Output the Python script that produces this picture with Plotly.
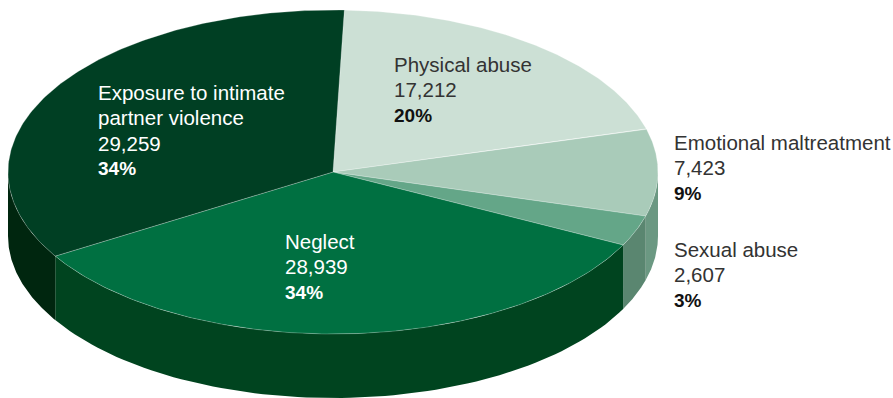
import numpy as np
import plotly.graph_objects as go

# Substantiated child maltreatment, by primary category (clockwise from the top)
categories = ["Physical abuse", "Emotional maltreatment", "Sexual abuse",
              "Neglect", "Exposure to intimate partner violence"]
label_lines = [["Physical abuse"], ["Emotional maltreatment"], ["Sexual abuse"],
               ["Neglect"], ["Exposure to intimate", "partner violence"]]
counts = [17212, 7423, 2607, 28939, 29259]

# Face / rim colours for each slice
top_colors = ["#cce0d5", "#a9cbb9", "#64a688", "#007041", "#003f23"]
rim_colors = ["#a3c2b2", "#6b9882", "#5a8670", "#00441f", "#00260f"]
text_colors = ["#333333", "#333333", "#333333", "#ffffff", "#ffffff"]
pct_colors = ["#111111", "#111111", "#111111", "#ffffff", "#ffffff"]
# Left edge and first-line centre of each label block
label_pos = [(392, 63), (672, 141), (672, 248), (283, 240), (96, 91)]

# Projected pie geometry (pixel space)
CX, CY = 333, 172      # centre of top face
RX, RY = 325, 162      # ellipse radii
DEPTH = 64             # rim thickness
START = 88.0           # degrees, first slice starts here and runs clockwise
LINE_GAP = 25.5
FONT = "Liberation Sans, Arial, sans-serif"
FS = 20.5

total = float(sum(counts))
fracs = [c / total for c in counts]


def arc(t0, t1, n=80):
    t = np.radians(np.linspace(t0, t1, n))
    return CX + RX * np.cos(t), CY - RY * np.sin(t)


fig = go.Figure()

# Rim (side wall) pieces: only the front half, t in [-180, 0]
bounds = []
a = START
for f in fracs:
    b = a - 360.0 * f
    bounds.append((a, b))
    a = b

for (a0, a1), col in zip(bounds, rim_colors):
    for shift in (0.0, -360.0):
        hi = min(a0 + shift, 0.0)
        lo = max(a1 + shift, -180.0)
        if hi <= lo:
            continue
        xt, yt = arc(hi, lo)
        xb, yb = arc(lo, hi)
        xs = np.concatenate([xt, xb, xt[:1]])
        ys = np.concatenate([yt, yb + DEPTH, yt[:1]])
        fig.add_trace(go.Scatter(x=xs, y=ys, mode="lines", fill="toself",
                                 fillcolor=col, line=dict(width=0, color=col),
                                 hoverinfo="skip", showlegend=False))

# Top faces
for (a0, a1), col, name, v in zip(bounds, top_colors, categories, counts):
    xa, ya = arc(a0, a1, 160)
    xs = np.concatenate([[CX], xa, [CX]])
    ys = np.concatenate([[CY], ya, [CY]])
    fig.add_trace(go.Scatter(x=xs, y=ys, mode="lines", fill="toself",
                             fillcolor=col,
                             line=dict(width=0.7, color="rgba(255,255,255,0.35)"),
                             name=name, hovertemplate=f"{name}: {v:,}<extra></extra>",
                             showlegend=False))

# Labels: category name, count and bold percentage
for lines, v, f, (lx, ly), tc, pc in zip(label_lines, counts, fracs, label_pos,
                                        text_colors, pct_colors):
    rows = [(s, tc, False) for s in lines]
    rows.append((f"{v:,}", tc, False))
    rows.append((f"{round(f * 100):d}%", pc, True))
    for i, (s, c, bold) in enumerate(rows):
        fig.add_annotation(x=lx, y=ly + i * LINE_GAP + 1, xref="x", yref="y",
                           text=f"<b>{s}</b>" if bold else s,
                           showarrow=False, xanchor="left", yanchor="middle",
                           font=dict(family=FONT, size=FS if not bold else 19,
                                     color=c))

fig.update_xaxes(range=[0, 893], visible=False, fixedrange=True)
fig.update_yaxes(range=[398, 0], visible=False, fixedrange=True)
fig.update_layout(width=893, height=398, margin=dict(l=0, r=0, t=0, b=0),
                  paper_bgcolor="white", plot_bgcolor="white")

fig.write_html("out.html")
